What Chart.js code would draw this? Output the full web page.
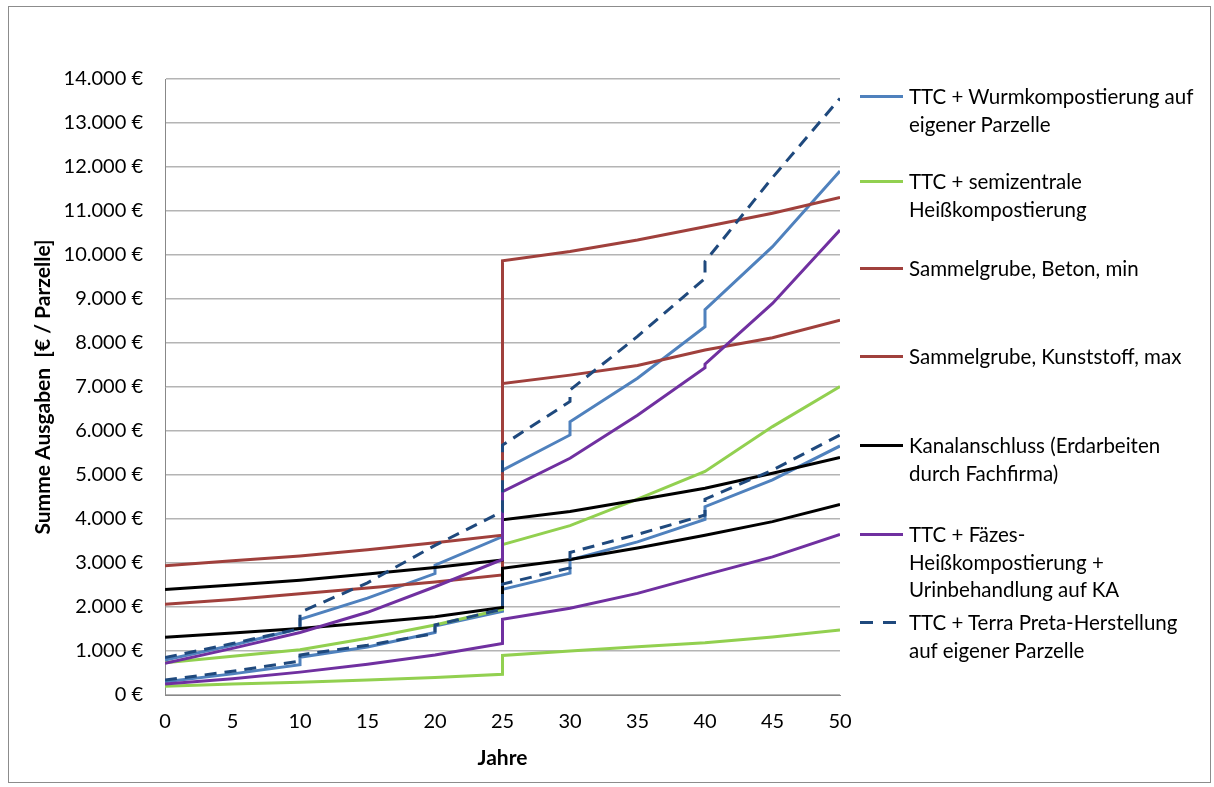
<!DOCTYPE html>
<html>
<head>
<meta charset="utf-8">
<script src="https://cdn.jsdelivr.net/npm/chart.js@4"></script>
<style>
  body { margin: 0; background: #fff; }
  #wrap { position: absolute; left: 0; top: 0; width: 1214px; height: 787px; }
  #frame { position: absolute; left: 8px; top: 6px; width: 1201px; height: 775px; border: 1px solid #8c8c8c; }
  #legend { position: absolute; left: 0; top: 0; font-family: Lato, sans-serif; font-size: 20.5px; line-height: 27.5px; color: #000; }
  .item { position: absolute; left: 909px; white-space: nowrap; }
  .swatch { position: absolute; left: -49px; top: 12px; width: 43px; height: 3px; }
</style>
</head>
<body>
<div id="wrap">
  <div id="frame"></div>
  <canvas id="costChart"></canvas>
  <div id="legend"></div>
</div>
<script>
// years, with repeated years where a series jumps (replacement / new investment)
const years = [0, 5, 10, 10, 15, 20, 20, 25, 25, 30, 30, 35, 40, 40, 45, 50];

const wurmMax = [795, 1130, 1510, 1720, 2200, 2760, 2950, 3600, 5110, 5910, 6210, 7200, 8370, 8760, 10190, 11910];
const wurmMin = [300, 480, 690, 860, 1090, 1420, 1570, 1900, 2400, 2770, 3070, 3480, 3990, 4280, 4890, 5660];
const heissMax = [735, 880, 1030, 1030, 1290, 1590, 1590, 1950, 3420, 3850, 3850, 4450, 5080, 5080, 6100, 7010];
const heissMin = [200, 250, 290, 290, 340, 400, 400, 470, 900, 1000, 1000, 1095, 1190, 1190, 1320, 1480];
const betonMin = [2060, 2170, 2300, 2300, 2430, 2570, 2570, 2730, 7080, 7270, 7270, 7490, 7840, 7840, 8120, 8520];
const kunststoffMax = [2940, 3050, 3160, 3160, 3300, 3460, 3460, 3630, 9870, 10080, 10080, 10340, 10640, 10640, 10950, 11310];
const kanalMax = [2400, 2500, 2610, 2610, 2750, 2900, 2900, 3070, 3980, 4170, 4170, 4430, 4700, 4700, 5040, 5400];
const kanalMin = [1310, 1410, 1510, 1510, 1640, 1780, 1780, 1990, 2880, 3080, 3080, 3340, 3630, 3630, 3940, 4330];
const faezesMax = [720, 1060, 1420, 1420, 1880, 2460, 2460, 3080, 4620, 5380, 5380, 6360, 7440, 7520, 8900, 10570];
const faezesMin = [250, 370, 520, 520, 700, 910, 910, 1170, 1720, 1970, 1970, 2310, 2730, 2730, 3140, 3650];
const terraMax = [850, 1170, 1510, 1880, 2550, 3400, 3400, 4170, 5680, 6670, 6930, 8150, 9470, 9850, 11760, 13560];
const terraMin = [340, 540, 770, 910, 1130, 1400, 1590, 1950, 2520, 2890, 3240, 3650, 4090, 4450, 5110, 5910];

const xTicks = [0, 5, 10, 15, 20, 25, 30, 35, 40, 45, 50];

const legendItems = [
    { lines: ['TTC + Wurmkompostierung auf', 'eigener Parzelle'], color: '#4F81BD', dashed: false, y: 97 },
    { lines: ['TTC + semizentrale', 'Heißkompostierung'], color: '#92D050', dashed: false, y: 182 },
    { lines: ['Sammelgrube, Beton, min'], color: '#A0403C', dashed: false, y: 269 },
    { lines: ['Sammelgrube, Kunststoff, max'], color: '#A0403C', dashed: false, y: 357 },
    { lines: ['Kanalanschluss (Erdarbeiten', 'durch Fachfirma)'], color: '#000000', dashed: false, y: 446 },
    { lines: ['TTC + Fäzes-', 'Heißkompostierung +', 'Urinbehandlung auf KA'], color: '#7030A0', dashed: false, y: 535 },
    { lines: ['TTC + Terra Preta-Herstellung', 'auf eigener Parzelle'], color: '#1F497D', dashed: true, y: 623 }
];

function toPoints(values) {
    return values.map((v, i) => ({ x: years[i], y: v }));
}

function euro(v) {
    return String(v).replace(/\B(?=(\d{3})+(?!\d))/g, '.') + ' €';
}

function makeSet(label, values, color, dashed) {
    return {
        label: label,
        data: toPoints(values),
        borderColor: color,
        backgroundColor: color,
        borderWidth: 3,
        borderDash: dashed ? [12, 8] : [],
        pointRadius: 0,
        tension: 0,
        showLine: true
    };
}

const datasets = [
    makeSet('Wurm max', wurmMax, '#4F81BD', false),
    makeSet('Wurm min', wurmMin, '#4F81BD', false),
    makeSet('Heiß max', heissMax, '#92D050', false),
    makeSet('Heiß min', heissMin, '#92D050', false),
    makeSet('Sammelgrube, Beton, min', betonMin, '#A0403C', false),
    makeSet('Sammelgrube, Kunststoff, max', kunststoffMax, '#A0403C', false),
    makeSet('Kanal max', kanalMax, '#000000', false),
    makeSet('Kanal min', kanalMin, '#000000', false),
    makeSet('Fäzes max', faezesMax, '#7030A0', false),
    makeSet('Fäzes min', faezesMin, '#7030A0', false),
    makeSet('Terra max', terraMax, '#1F497D', true),
    makeSet('Terra min', terraMin, '#1F497D', true)
];
// later series on top, like the original
datasets.forEach((d, i) => { d.order = datasets.length - i; });

const canvas = document.getElementById('costChart');
canvas.width = 1214;
canvas.height = 787;

new Chart(canvas.getContext('2d'), {
    type: 'scatter',
    data: { datasets: datasets },
    options: {
        responsive: false,
        animation: false,
        layout: { padding: { left: 31, top: 79, right: 374, bottom: 16 } },
        plugins: { legend: { display: false }, tooltip: { enabled: false } },
        scales: {
            x: {
                type: 'linear',
                min: 0,
                max: 50,
                afterBuildTicks: axis => { axis.ticks = xTicks.map(v => ({ value: v })); },
                afterFit: axis => { axis.height = 76; },
                ticks: { color: '#000', padding: 15, font: { family: 'Lato', size: 20 }, maxRotation: 0 },
                grid: { drawOnChartArea: false, drawTicks: false },
                border: { display: true, color: '#888', width: 1 },
                title: {
                    display: true,
                    text: 'Jahre',
                    color: '#000',
                    padding: 0,
                    font: { family: 'Lato', size: 21, weight: 'bold' }
                }
            },
            y: {
                min: 0,
                max: 14000,
                afterFit: axis => { axis.width = 134; },
                ticks: { stepSize: 1000, color: '#000', padding: 22, font: { family: 'Lato', size: 20 }, callback: v => euro(v) },
                grid: { color: '#b4b4b4', lineWidth: 1.5, drawTicks: false },
                border: { display: true, color: '#888', width: 1 },
                title: {
                    display: true,
                    text: 'Summe Ausgaben  [€ / Parzelle]',
                    color: '#000',
                    padding: 0,
                    font: { family: 'Lato', size: 21, weight: 'bold' }
                }
            }
        }
    }
});

// legend built as HTML so the labels can wrap like the original
const legend = document.getElementById('legend');
legendItems.forEach(item => {
    const div = document.createElement('div');
    div.className = 'item';
    div.style.top = (item.y - 13.75) + 'px';
    const sw = document.createElement('span');
    sw.className = 'swatch';
    if (item.dashed) {
        sw.style.width = '36px';
        sw.style.background = 'repeating-linear-gradient(to right, ' + item.color + ' 0 13px, transparent 13px 23px)';
    } else {
        sw.style.background = item.color;
    }
    div.appendChild(sw);
    div.insertAdjacentHTML('beforeend', item.lines.join('<br>'));
    legend.appendChild(div);
});
</script>
</body>
</html>
